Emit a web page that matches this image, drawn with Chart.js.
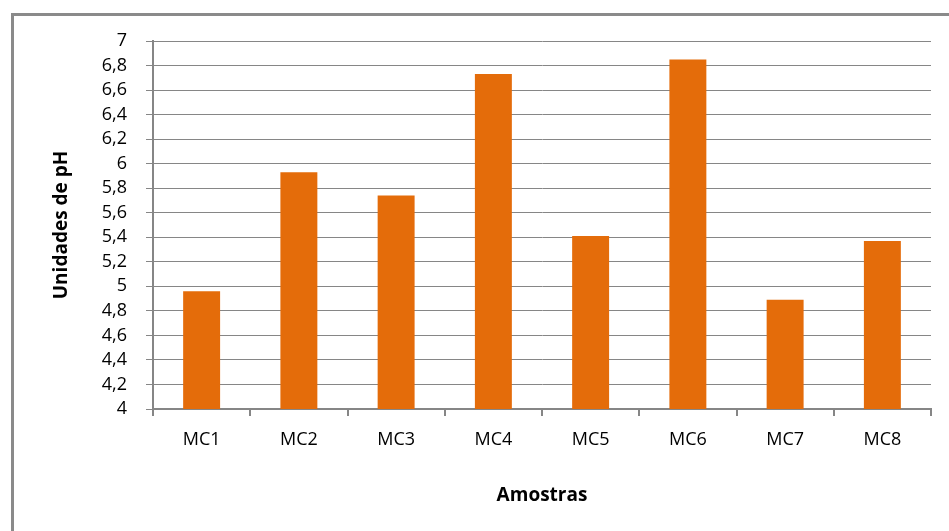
<!DOCTYPE html>
<html>
<head>
<meta charset="utf-8">
<script src="https://cdn.jsdelivr.net/npm/chart.js@4"></script>
<style>
  html, body { margin: 0; padding: 0; background: #fff; overflow: hidden; }
  #wrap { position: relative; width: 949px; height: 531px; }
  #frame {
    position: absolute; left: 11px; top: 13px; width: 960px; height: 560px;
    border-left: 3px solid #8a8a8a; border-top: 3px solid #8a8a8a;
    pointer-events: none;
  }
  canvas { position: absolute; left: 0; top: 0; }
</style>
</head>
<body>
<div id="wrap">
  <div id="frame"></div>
  <canvas id="phChart" width="949" height="531"></canvas>
</div>
<script>
const amostras = ["MC1", "MC2", "MC3", "MC4", "MC5", "MC6", "MC7", "MC8"];
const phValues = [4.96, 5.93, 5.74, 6.73, 5.41, 6.85, 4.89, 5.37];

const gridColor = "#868686";
const barColor = "#E46C0A";
const fontFamily = "'Open Sans', sans-serif";

const ctx = document.getElementById("phChart").getContext("2d");
new Chart(ctx, {
  type: "bar",
  data: {
    labels: amostras,
    datasets: [{
      label: "pH",
      data: phValues,
      backgroundColor: barColor,
      borderWidth: 0,
      barPercentage: 0.38,
      categoryPercentage: 1
    }]
  },
  options: {
    responsive: false,
    animation: false,
    layout: { padding: { top: 41, right: 18, bottom: 0, left: 0 } },
    plugins: {
      legend: { display: false },
      tooltip: { enabled: false }
    },
    scales: {
      x: {
        grid: { drawOnChartArea: false, drawTicks: true, tickLength: 7, color: gridColor, lineWidth: 2, offset: true },
        border: { color: gridColor, width: 2 },
        ticks: { color: "#000", padding: 13, font: { family: fontFamily, size: 18 } },
        title: {
          display: true, text: "Amostras", color: "#000",
          font: { family: fontFamily, size: 19, weight: "bold" },
          padding: { top: 24, bottom: 24 }
        },
        afterFit: (scale) => { scale.height = 122; }
      },
      y: {
        min: 4,
        max: 7,
        grid: { color: gridColor, lineWidth: 1, tickLength: 7 },
        border: { color: gridColor, width: 2 },
        ticks: {
          stepSize: 0.2,
          autoSkip: false,
          color: "#000",
          padding: 19,
          font: { family: fontFamily, size: 18, lineHeight: 1 },
          callback: (v) => (Math.round(v * 10) / 10).toString().replace(".", ",")
        },
        title: {
          display: true, text: "Unidades de pH", color: "#000",
          font: { family: fontFamily, size: 19, weight: "bold" },
          padding: { top: 50, bottom: 0 }
        },
        afterFit: (scale) => { scale.width = 153; }
      }
    }
  }
});
</script>
</body>
</html>
